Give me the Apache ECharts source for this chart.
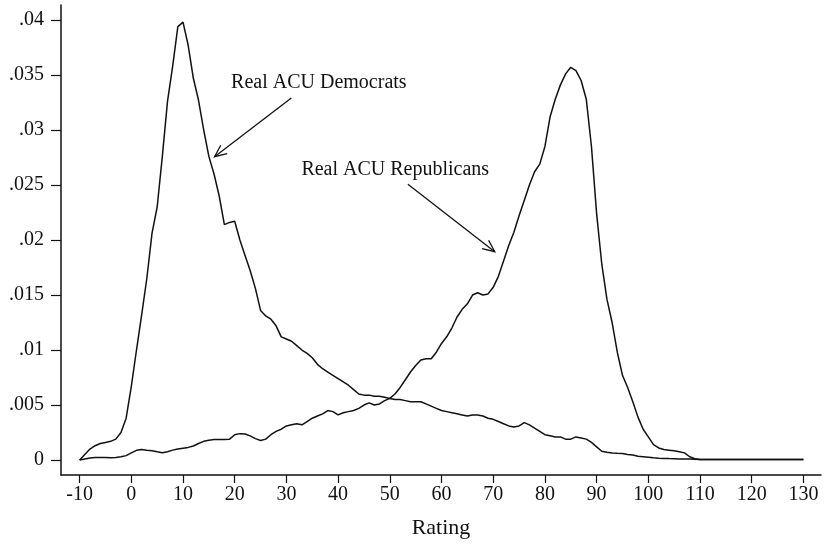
<!DOCTYPE html>
<html>
<head>
<meta charset="utf-8">
<script src="https://cdn.jsdelivr.net/npm/echarts@6/dist/echarts.min.js"></script>
<style>
html,body{margin:0;padding:0;background:#fff;}
#chart{width:825px;height:544px;}
</style>
</head>
<body>
<div id="chart"></div>
<script>
// Ratings -10 .. 110 step 1, then tail points
var ratings = [];
for (var r = -10; r <= 110; r++) ratings.push(r);
ratings.push(120, 130);

var democrats = [
  0, 0.0005, 0.0010, 0.0013, 0.0015, 0.0016, 0.0017, 0.0019, 0.0025, 0.0038,
  0.0067, 0.0100, 0.0132, 0.0165, 0.0206, 0.0230, 0.0276, 0.0326, 0.0358, 0.0394,
  0.0398, 0.0377, 0.0347, 0.0327, 0.0300, 0.0276, 0.0260, 0.0240, 0.0214, 0.0216,
  0.0217, 0.0200, 0.0186, 0.0172, 0.0156, 0.0136, 0.0131, 0.0128, 0.0122, 0.0112,
  0.0110, 0.0108, 0.0104, 0.0100, 0.0097, 0.0093, 0.0087, 0.0083, 0.0080, 0.0077,
  0.0074, 0.0071, 0.0068, 0.0064, 0.0060, 0.0059, 0.0059, 0.0058, 0.0058, 0.0057,
  0.0056, 0.0055, 0.0055, 0.0054, 0.0053, 0.0053, 0.0053, 0.0051, 0.0049, 0.0047,
  0.0045, 0.0044, 0.0043, 0.0042, 0.0041, 0.0040, 0.0041, 0.0041, 0.0040, 0.0038,
  0.0037, 0.0035, 0.0033, 0.0031, 0.0030, 0.0031, 0.0034, 0.0032, 0.0029, 0.0026,
  0.0023, 0.0022, 0.0021, 0.0021, 0.0019, 0.0019, 0.0021, 0.0020, 0.0019, 0.0016,
  0.0012, 0.0008, 0.0007, 0.00065, 0.00062, 0.0006, 0.0005, 0.00045, 0.00035, 0.0003,
  0.00025, 0.0002, 0.00017, 0.00015, 0.00013, 0.00012, 0.0001, 0.0001, 0.0001, 0.00008,
  0.00005, 0.00005, 0.00005
];

var republicans = [
  0, 0.0001, 0.00018, 0.00022, 0.00024, 0.00022, 0.0002, 0.00024, 0.0003, 0.0004,
  0.00065, 0.00088, 0.00096, 0.0009, 0.00085, 0.00075, 0.00066, 0.00075, 0.0009, 0.001,
  0.00108, 0.00115, 0.00128, 0.0015, 0.0017, 0.0018, 0.00187, 0.00187, 0.00187, 0.0019,
  0.0023, 0.0024, 0.00237, 0.0022, 0.00195, 0.00178, 0.0019, 0.0023, 0.0026, 0.0028,
  0.0031, 0.0032, 0.0033, 0.0032, 0.0035, 0.0038, 0.0040, 0.0042, 0.0045, 0.0044,
  0.0041, 0.0043, 0.0044, 0.0045, 0.0047, 0.0050, 0.0052, 0.0050, 0.0051, 0.0054,
  0.0056, 0.0060, 0.0066, 0.0073, 0.0080, 0.0086, 0.0091, 0.0092, 0.0092, 0.0098,
  0.0106, 0.0112, 0.0120, 0.0130, 0.0137, 0.0142, 0.0150, 0.0152, 0.0150, 0.0151,
  0.0157, 0.0167, 0.0181, 0.0195, 0.0207, 0.0222, 0.0236, 0.0250, 0.0262, 0.0269,
  0.0285, 0.0312, 0.0328, 0.0341, 0.0351, 0.0357, 0.0354, 0.0345, 0.0328, 0.0285,
  0.0224, 0.0178, 0.0146, 0.0125, 0.0098, 0.0077, 0.0066, 0.0053, 0.0039, 0.0028,
  0.0021, 0.0014, 0.0011, 0.00095, 0.0009, 0.00085, 0.00075, 0.00065, 0.0003, 0.00012,
  0.00005, 0.00005, 0.00005
];

var xTicks = [-10, 0, 10, 20, 30, 40, 50, 60, 70, 80, 90, 100, 110, 120, 130];
var yTicks = [0, 0.005, 0.01, 0.015, 0.02, 0.025, 0.03, 0.035, 0.04];
var yTickLabels = ['0', '.005', '.01', '.015', '.02', '.025', '.03', '.035', '.04'];

// Annotations in data space: label anchor (left-middle), arrow start, arrow tip
var annotations = [
  { text: 'Real ACU Democrats', label: [19.3, 0.03427], from: [30.95, 0.03291], to: [16.1, 0.02757] },
  { text: 'Real ACU Republicans', label: [32.9, 0.02643], from: [53.5, 0.02507], to: [70.3, 0.01894] }
];

function pairs(xs, ys) {
  var out = [];
  for (var i = 0; i < ys.length; i++) out.push([xs[i], ys[i]]);
  return out;
}

var FONT = '"Liberation Serif", "DejaVu Serif", serif';
var INK = '#111';

var chart = echarts.init(document.getElementById('chart'), null, { renderer: 'canvas' });
chart.setOption({
  backgroundColor: '#fff',
  animation: false,
  grid: { left: 61, right: 4, top: 5, bottom: 67, containLabel: false },
  xAxis: {
    type: 'value', min: -13.6, max: 133.4,
    name: 'Rating', nameLocation: 'middle', nameGap: 42,
    nameTextStyle: { fontFamily: FONT, fontSize: 22, color: INK },
    axisLine: { show: true, onZero: false, lineStyle: { color: INK, width: 1.5 } },
    axisTick: { show: true, length: 8, customValues: xTicks, lineStyle: { color: INK, width: 1.2 } },
    axisLabel: { customValues: xTicks, fontFamily: FONT, fontSize: 20, color: INK, margin: 10 },
    splitLine: { show: false }
  },
  yAxis: {
    type: 'value', min: -0.00136, max: 0.04136,
    axisLine: { show: true, onZero: false, lineStyle: { color: INK, width: 1.5 } },
    axisTick: { show: true, length: 10, customValues: yTicks, lineStyle: { color: INK, width: 1.2 } },
    axisLabel: {
      customValues: yTicks, fontFamily: FONT, fontSize: 20, color: INK, margin: 17,
      formatter: function (v) {
        for (var i = 0; i < yTicks.length; i++) if (Math.abs(yTicks[i] - v) < 1e-9) return yTickLabels[i];
        return '';
      }
    },
    splitLine: { show: false }
  },
  series: [
    { name: 'Real ACU Democrats', type: 'line', data: pairs(ratings, democrats), showSymbol: false, symbol: 'none',
      lineStyle: { color: INK, width: 1.5 } },
    { name: 'Real ACU Republicans', type: 'line', data: pairs(ratings, republicans), showSymbol: false, symbol: 'none',
      lineStyle: { color: INK, width: 1.5 } }
  ]
});

function px(p) { return chart.convertToPixel({ gridIndex: 0 }, p); }
var elements = [];
annotations.forEach(function (a) {
  var l = px(a.label), f = px(a.from), t = px(a.to);
  elements.push({ type: 'text', x: l[0], y: l[1], style: { text: a.text, font: '20px ' + FONT, fill: INK, verticalAlign: 'middle', align: 'left' } });
  elements.push({ type: 'line', shape: { x1: f[0], y1: f[1], x2: t[0], y2: t[1] }, style: { stroke: INK, lineWidth: 1.3 } });
  var ang = Math.atan2(f[1] - t[1], f[0] - t[0]);
  var L = 13, spread = 0.42;
  var p1 = [t[0] + L * Math.cos(ang + spread), t[1] + L * Math.sin(ang + spread)];
  var p2 = [t[0] + L * Math.cos(ang - spread), t[1] + L * Math.sin(ang - spread)];
  elements.push({ type: 'polyline', shape: { points: [p1, t, p2] }, style: { stroke: INK, lineWidth: 1.3, fill: null } });
});
chart.setOption({ graphic: { elements: elements } });
</script>
</body>
</html>
